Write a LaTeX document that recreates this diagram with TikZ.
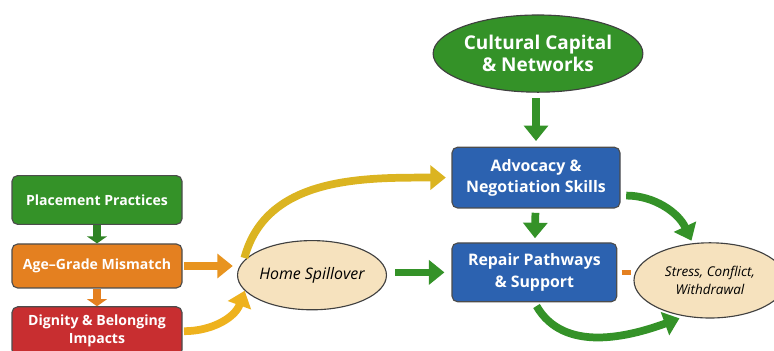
\documentclass[tikz,border=0pt]{standalone}
\usepackage{fontspec}
\setmainfont{Open Sans}
\usetikzlibrary{shapes.geometric, positioning, arrows.meta}
\definecolor{FlowGreen}{RGB}{52,146,40}
\definecolor{FlowOrange}{RGB}{228,128,32}
\definecolor{FlowRed}{RGB}{200,46,48}
\definecolor{FlowBlue}{RGB}{44,98,176}
\definecolor{FlowBeige}{RGB}{246,226,190}
\definecolor{FlowYellow}{RGB}{238,178,30}
\definecolor{FlowLime}{RGB}{176,186,40}

\begin{document}
\begin{tikzpicture}[
          box/.style={rectangle, rounded corners=4pt, draw=black!70, thick,
                      font=\fontsize{10}{12}\selectfont\bfseries, align=center,
                      text=white},
          oval/.style={ellipse, draw=black!75, thick, align=center,
                       inner sep=0pt},
          big/.style={-{Triangle[length=11pt, width=17pt]}, line width=5.5pt},
          small/.style={-{Triangle[length=5pt, width=14pt]}, line width=6pt}
        ]
        \useasboundingbox (0,0) rectangle (19.35,8.75);

        % left column
        \node[box, fill=FlowGreen, minimum width=4.25cm, minimum height=1.22cm]
              (pp) at (2.425,3.75) {Placement Practices};
        \node[box, fill=FlowOrange, minimum width=4.25cm, minimum height=1.1cm]
              (ag) at (2.425,2.1) {Age--Grade Mismatch};
        \node[box, fill=FlowRed, minimum width=4.25cm, minimum height=1.22cm]
              (dg) at (2.425,0.47) {Dignity \& Belonging\\[1pt]Impacts};

        % middle and right
        \node[oval, fill=FlowBeige, minimum width=3.48cm, minimum height=1.73cm,
              font=\fontsize{11.3}{14}\selectfont\itshape]
              (hs) at (7.8,1.87) {Home Spillover};
        \node[oval, fill=FlowGreen, text=white, minimum width=5.1cm,
              minimum height=1.93cm, font=\fontsize{13.5}{16}\selectfont\bfseries]
              (cc) at (13.45,7.41) {Cultural Capital\\[0pt]\& Networks};
        \node[box, fill=FlowBlue, minimum width=4.2cm, minimum height=1.52cm,
              font=\fontsize{11.3}{14}\selectfont\bfseries]
              (ad) at (13.4,4.31) {Advocacy \&\\[1pt]Negotiation Skills};
        \node[box, fill=FlowBlue, minimum width=4.12cm, minimum height=1.47cm,
              font=\fontsize{11.3}{14}\selectfont\bfseries]
              (rp) at (13.36,1.94) {Repair Pathways\\[1pt]\& Support};
        \node[oval, fill=FlowBeige, minimum width=3.8cm, minimum height=1.88cm,
              font=\fontsize{9.6}{12}\selectfont\itshape]
              (st) at (17.75,1.74) {Stress, Conflict,\\[1pt]Withdrawal};

        % down the left column
        \draw[small, FlowGreen!90!black] (pp) -- (ag);
        \draw[small, FlowOrange] (ag) -- (dg);

        % into home spillover
        \draw[big, FlowOrange!60!FlowYellow, shorten <=1pt, shorten >=3pt]
              (ag.east) -- (ag.east -| hs.west);
        \draw[big, FlowYellow, shorten <=1pt]
              (dg.east) to[out=0, in=250] (hs.193);

        % out of home spillover
        \draw[big, FlowYellow!70!FlowLime, shorten <=2pt, shorten >=4pt]
              (hs.168) to[out=75, in=180] (ad.west);
        \draw[big, FlowGreen, shorten <=6pt, shorten >=5pt]
              (hs.east |- rp.west) -- (rp.west);

        % right side
        \draw[big, FlowGreen, shorten <=4pt, shorten >=4pt]
              (ad.north |- cc.south) -- (ad.north);
        \draw[big, FlowGreen, shorten <=3pt, shorten >=3pt] (ad) -- (rp);
        \draw[big, FlowGreen, shorten <=4pt, shorten >=2pt]
              (ad.-12) to[out=0, in=115] (st.115);
        \draw[big, FlowGreen, shorten <=3pt, shorten >=4pt]
              (rp.south) to[out=-60, in=200] (st.235);
        \draw[line width=3.6pt, FlowOrange, shorten <=3pt, shorten >=1.5pt]
              (rp.east) -- (rp.east -| st.west);
      \end{tikzpicture}
\end{document}
